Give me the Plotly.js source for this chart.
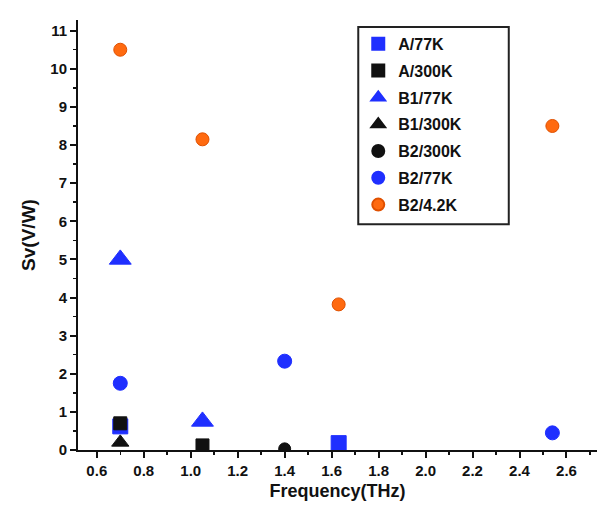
<!DOCTYPE html>
<html><head><meta charset="utf-8">
<script src="https://cdn.plot.ly/plotly-3.0.1.min.js"></script>
<style>body{margin:0;background:#fff}#c{width:597px;height:506px}</style>
</head><body><div id="c"></div>
<script>
const a77x = [0.70, 1.63], a77y = [0.62, 0.18];
const a300x = [0.70, 1.05], a300y = [0.70, 0.12];
const b177x = [0.70, 1.05], b177y = [5.00, 0.75];
const b1300x = [0.70], b1300y = [0.20];
const b2300x = [1.40], b2300y = [0.03];
const b277x = [0.70, 1.40, 2.54], b277y = [1.75, 2.33, 0.45];
const b242x = [0.70, 1.05, 1.63, 2.54], b242y = [10.50, 8.15, 3.82, 8.50];
const xTicks = [0.6,0.8,1.0,1.2,1.4,1.6,1.8,2.0,2.2,2.4,2.6];
const yTicks = [0,1,2,3,4,5,6,7,8,9,10,11];

function tr(name, x, y, sym, col, size, lc){
  return {type:'scatter', mode:'markers', name:name, legendgroup:name, x:x, y:y,
    marker:{symbol:sym, color:col, size:size, line:{color:lc||col, width:1}}};
}
const data = [
  tr('A/77K', a77x, a77y, 'square', '#1f2fff', 15),
  tr('A/300K', a300x, a300y, 'square', '#111', 13),
  tr('B1/77K', b177x, b177y, 'triangle-up', '#1f2fff', 19),
  tr('B1/300K', b1300x, b1300y, 'triangle-up', '#111', 15),
  tr('B2/300K', b2300x, b2300y, 'circle', '#111', 12),
  tr('B2/77K', b277x, b277y, 'circle', '#1f2fff', 14),
  tr('B2/4.2K', b242x, b242y, 'circle', '#ff6a10', 13, '#e05000')
];
const layout = {
  width:597, height:506, margin:{l:78, r:0, t:20, b:56},
  paper_bgcolor:'#fff', plot_bgcolor:'#fff', showlegend:true,
  font:{family:'Liberation Sans, Arial, sans-serif', color:'#111'},
  xaxis:{range:[0.52,2.73], tickvals:xTicks, ticktext:xTicks.map(v=>v.toFixed(1)),
    showgrid:false, zeroline:false, showline:true, linecolor:'#111', linewidth:2,
    ticks:'outside', ticklen:6, tickwidth:2, tickcolor:'#111',
    minor:{dtick:0.1, ticks:'outside', ticklen:3, tickwidth:1.5, tickcolor:'#111'},
    tickfont:{size:15, family:'Liberation Sans, Arial', weight:'bold'},
    title:{text:'Frequency(THz)', font:{size:18, weight:'bold'}, standoff:6}},
  yaxis:{range:[0,11.28], tickvals:yTicks,
    showgrid:false, zeroline:false, showline:true, linecolor:'#111', linewidth:2,
    ticks:'outside', ticklen:6, tickwidth:2, tickcolor:'#111',
    minor:{dtick:0.5, ticks:'outside', ticklen:3, tickwidth:1.5, tickcolor:'#111'},
    tickfont:{size:15, family:'Liberation Sans, Arial', weight:'bold'},
    title:{text:'Sv(V/W)', font:{size:19, weight:'bold'}, standoff:10}},
  shapes:[{type:'rect', xref:'paper', yref:'paper', x0:0.54, x1:0.83, y0:0.525, y1:0.984,
    line:{color:'#222222', width:2}}],
  legend:{x:0.54, y:0.984, xanchor:'left', yanchor:'top', bgcolor:'rgba(255,255,255,0)',
    bordercolor:'rgba(255,255,255,0)', borderwidth:0, tracegroupgap:3, itemsizing:'constant',
    font:{size:16, family:'Liberation Sans, Arial', color:'#111', weight:'bold'}}
};
Plotly.newPlot('c', data, layout, {displayModeBar:false, staticPlot:true});
</script></body></html>
